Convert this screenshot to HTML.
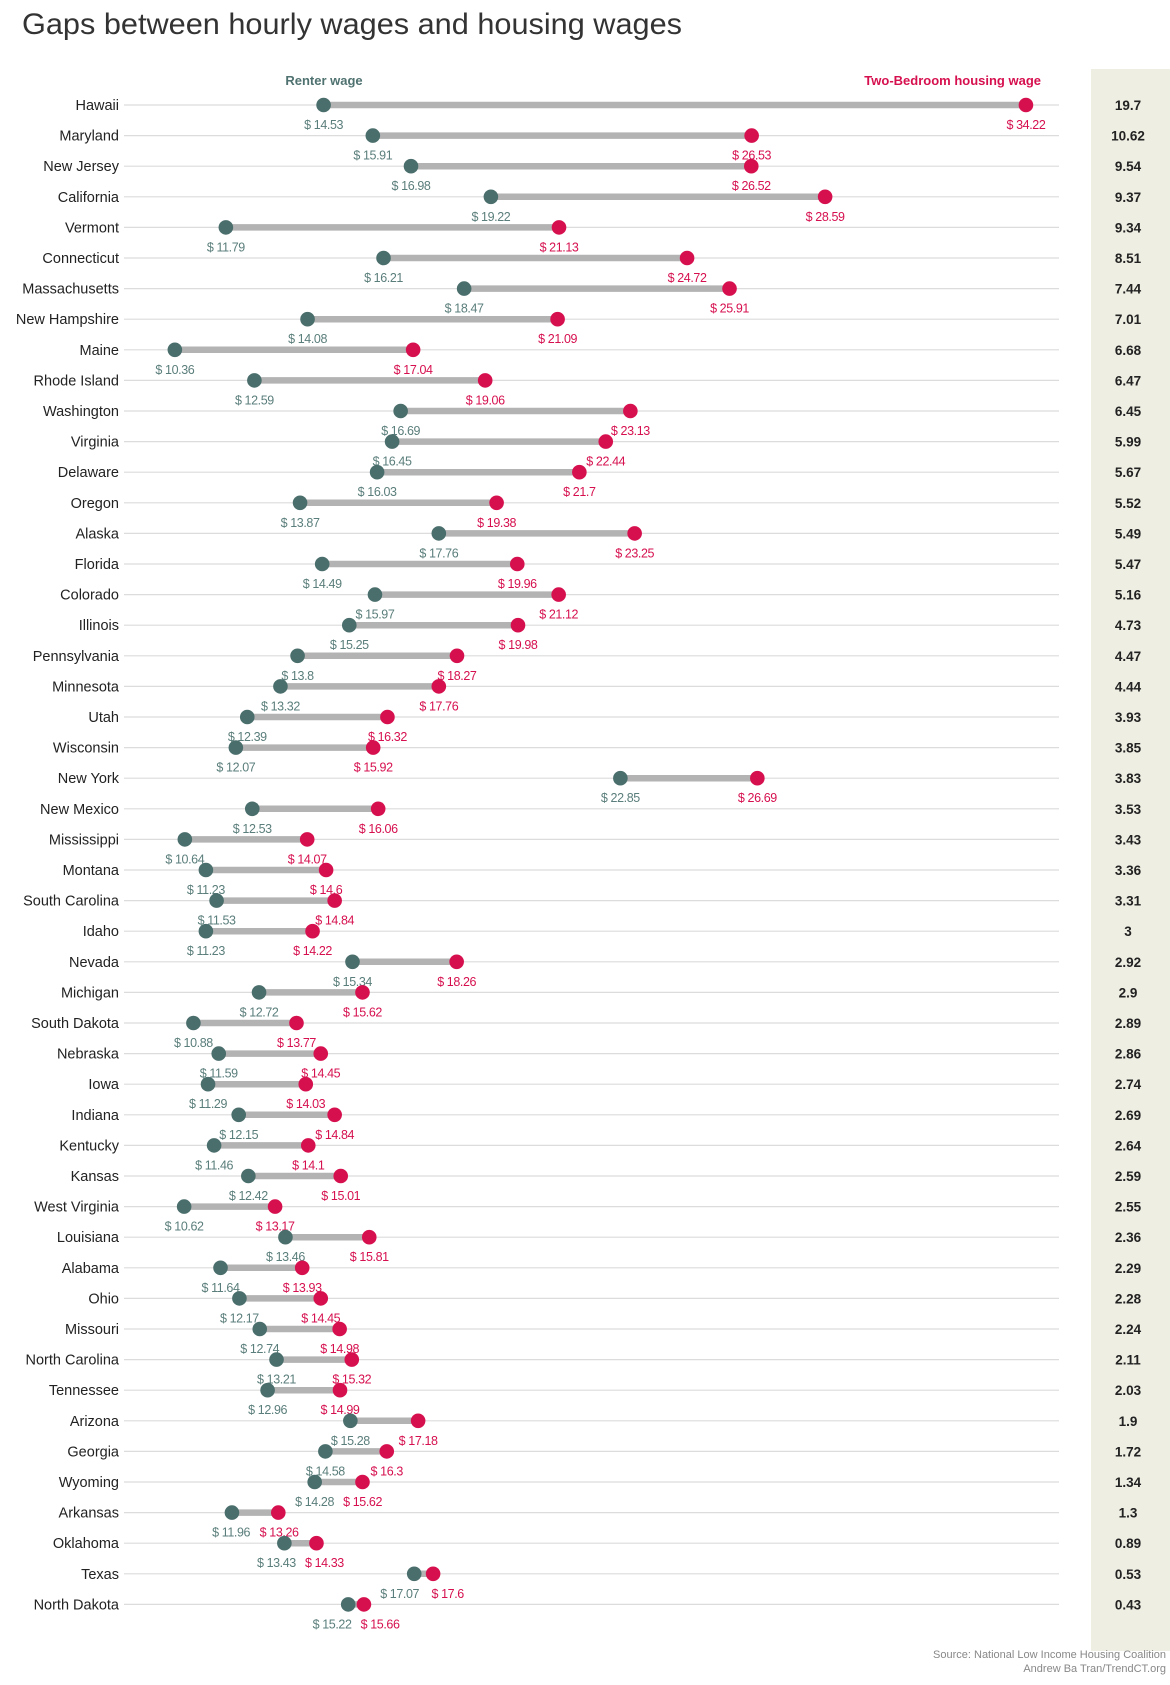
<!DOCTYPE html>
<html><head><meta charset="utf-8"><style>
body{margin:0;background:#fff;}
svg{display:block;font-family:"Liberation Sans",sans-serif;}
</style></head><body>
<svg id="chart" width="1170" height="1685" viewBox="0 0 1170 1685" xmlns="http://www.w3.org/2000/svg">
<text x="22" y="34" font-size="30" fill="#333" textLength="660" lengthAdjust="spacingAndGlyphs">Gaps between hourly wages and housing wages</text>
<rect x="1091" y="69" width="79" height="1582" fill="#efeee3"/>
<text x="324" y="85" font-size="13" font-weight="bold" fill="#4f7270" text-anchor="middle">Renter wage</text>
<text x="1041" y="85" font-size="13" font-weight="bold" fill="#d6104f" text-anchor="end">Two-Bedroom housing wage</text>
<g id="rows"></g>
<text x="1166" y="1658" font-size="11" fill="#888" text-anchor="end">Source: National Low Income Housing Coalition</text>
<text x="1166" y="1672" font-size="11" fill="#888" text-anchor="end">Andrew Ba Tran/TrendCT.org</text>
</svg>
<script>
const states=["Hawaii","Maryland","New Jersey","California","Vermont","Connecticut","Massachusetts","New Hampshire","Maine","Rhode Island","Washington","Virginia","Delaware","Oregon","Alaska","Florida","Colorado","Illinois","Pennsylvania","Minnesota","Utah","Wisconsin","New York","New Mexico","Mississippi","Montana","South Carolina","Idaho","Nevada","Michigan","South Dakota","Nebraska","Iowa","Indiana","Kentucky","Kansas","West Virginia","Louisiana","Alabama","Ohio","Missouri","North Carolina","Tennessee","Arizona","Georgia","Wyoming","Arkansas","Oklahoma","Texas","North Dakota"];
const renterWage=[14.53,15.91,16.98,19.22,11.79,16.21,18.47,14.08,10.36,12.59,16.69,16.45,16.03,13.87,17.76,14.49,15.97,15.25,13.8,13.32,12.39,12.07,22.85,12.53,10.64,11.23,11.53,11.23,15.34,12.72,10.88,11.59,11.29,12.15,11.46,12.42,10.62,13.46,11.64,12.17,12.74,13.21,12.96,15.28,14.58,14.28,11.96,13.43,17.07,15.22];
const housingWage=[34.22,26.53,26.52,28.59,21.13,24.72,25.91,21.09,17.04,19.06,23.13,22.44,21.7,19.38,23.25,19.96,21.12,19.98,18.27,17.76,16.32,15.92,26.69,16.06,14.07,14.6,14.84,14.22,18.26,15.62,13.77,14.45,14.03,14.84,14.1,15.01,13.17,15.81,13.93,14.45,14.98,15.32,14.99,17.18,16.3,15.62,13.26,14.33,17.6,15.66];
const gaps=["19.7","10.62","9.54","9.37","9.34","8.51","7.44","7.01","6.68","6.47","6.45","5.99","5.67","5.52","5.49","5.47","5.16","4.73","4.47","4.44","3.93","3.85","3.83","3.53","3.43","3.36","3.31","3","2.92","2.9","2.89","2.86","2.74","2.69","2.64","2.59","2.55","2.36","2.29","2.28","2.24","2.11","2.03","1.9","1.72","1.34","1.3","0.89","0.53","0.43"];
const NS="http://www.w3.org/2000/svg";
const x=v=>323.6+(v-14.53)*35.67;
const y=i=>105+i*30.6;
const g=document.getElementById('rows');
function mk(tag,attrs,txt){const e=document.createElementNS(NS,tag);for(const k in attrs)e.setAttribute(k,attrs[k]);if(txt!==undefined)e.textContent=txt;g.appendChild(e);return e;}
states.forEach((s,i)=>{
  const yy=y(i);
  const xg=x(renterWage[i]), xr=x(housingWage[i]);
  let lg=xg, lr=xr;
  const need=48;
  if(lr-lg<need){const d=(need-(lr-lg))/2;lg-=d;lr+=d;}
  let e=mk('line',{x1:124,x2:1059,y1:yy,y2:yy,stroke:'#dcdcdc','stroke-width':1.2});
  
  
  e=mk('text',{x:119,y:yy+5,'font-size':14.5,fill:'#222','text-anchor':'end'},s);
  
  
  e=mk('line',{x1:xg,x2:xr,y1:yy,y2:yy,stroke:'#b3b3b3','stroke-width':6.5});
  
  
  e=mk('circle',{cx:xg,cy:yy,r:7.3,fill:'#4a6e6c'});
  
  
  e=mk('circle',{cx:xr,cy:yy,r:7.3,fill:'#d6104f'});
  
  
  e=mk('text',{x:lg,y:yy+24,'font-size':12.5,'letter-spacing':-0.4,fill:'#5a7e7b','text-anchor':'middle'},'$ '+renterWage[i]);
  
  
  e=mk('text',{x:lr,y:yy+24,'font-size':12.5,'letter-spacing':-0.4,fill:'#d6104f','text-anchor':'middle'},'$ '+housingWage[i]);
  
  
  e=mk('text',{x:1128,y:yy+5,'font-size':13.5,'font-weight':'bold',fill:'#222','text-anchor':'middle'},gaps[i]);
  
  
});
</script>
</body></html>
